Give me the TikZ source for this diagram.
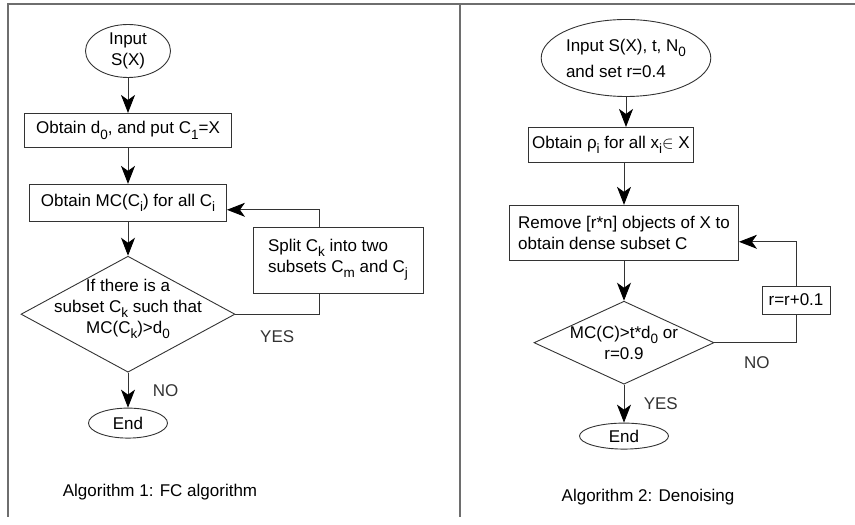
\documentclass[tikz,border=0pt]{standalone}
\usepackage{fontspec}
\setmainfont{Liberation Sans}
\usetikzlibrary{shapes.geometric,arrows.meta,positioning}
\definecolor{FrameGray}{HTML}{6E6E6E}
\definecolor{LineGray}{HTML}{333333}
\newcommand{\flowfont}{\fontsize{17}{21}\selectfont}
\newcommand{\lowsub}[1]{\raisebox{-0.6ex}{\fontsize{13.5}{13.5}\selectfont#1}}
\tikzset{
  procbox/.style={rectangle,draw=LineGray,line width=0.9pt,minimum height=34pt,
                  inner sep=4pt,align=center,font=\flowfont},
  term/.style={ellipse,draw=LineGray,line width=0.9pt,inner sep=0pt,align=center,font=\flowfont},
  decide/.style={diamond,draw=LineGray,line width=0.9pt,inner sep=0pt},
  arr/.style={-{Stealth[length=18pt,width=14pt,inset=5pt,color=black]},line width=0.9pt,color=LineGray},
  link/.style={line width=0.9pt,color=LineGray},
  frame/.style={line width=1.2pt,color=FrameGray},
  tag/.style={font=\flowfont},
}

\begin{document}
\begin{tikzpicture}[x=1pt,y=1pt]
  \useasboundingbox (0,0) rectangle (855,525);
  \draw[frame] (855,521) -- (8,521) -- (8,8);
  \draw[frame] (460,521) -- (460,8);

  \node[term, minimum width=85pt, minimum height=53pt] (in1) at (128,474) {Input\\S(X)};
  \node[procbox, minimum width=207pt, below=35pt of in1] (d0) {Obtain d\lowsub{0}, and put C\lowsub{1}=X};
  \node[procbox, minimum width=197pt, minimum height=37pt, below=36pt of d0] (mc) {Obtain MC(C\lowsub{i}) for all C\lowsub{i}};
  \node[decide, minimum width=214pt, minimum height=116pt, below=34pt of mc,
        label={[tag,align=center,yshift=5pt]center:{If there is a\\subset C\lowsub{k} such that\\MC(C\lowsub{k})>d\lowsub{0}}}] (cond1) {};
  \node[term, minimum width=79pt, minimum height=30pt, below=35pt of cond1] (end1) {End};
  \node[procbox, minimum width=170pt, minimum height=66pt, align=left] (split) at (338,265) {Split C\lowsub{k} into two\\subsets C\lowsub{m} and C\lowsub{j}};
  \node[tag] (cap1) at (160,33) {Algorithm 1: FC algorithm};

  \draw[arr] (in1) -- (d0);
  \draw[arr] (d0) -- (mc);
  \draw[arr] (mc) -- (cond1);
  \draw[arr] (cond1) -- node[tag,right=21pt]{NO} (end1);
  \draw[arr] ([xshift=-19pt]split.north) |- ([yshift=-7pt]mc.east);
  \draw[link] (cond1.east) -| node[tag,pos=0.25,below=13pt]{YES} ([xshift=-19pt]split.south);

  \node[term, minimum width=165pt, minimum height=77pt, align=left] (in2) at (626,467) {Input S(X), t, N\lowsub{0}\\[5pt]and set r=0.4};
  \node[procbox, minimum width=158pt, minimum height=35pt, below=30pt of in2, xshift=-15pt] (rho) {Obtain ρ\lowsub{i} for all x\lowsub{i}$\in$ X};
  \node[procbox, minimum width=229pt, minimum height=55pt, below=42pt of rho, xshift=13pt, align=left] (rem) {Remove [r*n] objects of X to\\obtain dense subset C};
  \node[decide, minimum width=180pt, minimum height=83pt, below=40pt of rem,
        label={[tag,align=center]center:{MC(C)>t*d\lowsub{0} or\\r=0.9}}] (cond2) {};
  \node[term, minimum width=89pt, minimum height=26pt, below=38pt of cond2] (end2) {End};
  \node[procbox, minimum width=68pt, minimum height=28pt] (rr) at (796,225) {r=r+0.1};
  \node[tag] (cap2) at (648,28) {Algorithm 2: Denoising};

  \draw[arr] (in2.south) -- (in2.south |- rho.north);
  \draw[arr] (rem.north |- rho.south) -- (rem.north);
  \draw[arr] (rem) -- (cond2);
  \draw[arr] (cond2) -- node[tag,right=16pt]{YES} (end2);
  \draw[arr] (rr.north) |- ([yshift=-9pt]rem.east);
  \draw[link] (cond2.east) -| node[tag,pos=0.26,below=10pt]{NO} (rr.south);
\end{tikzpicture}
\end{document}
